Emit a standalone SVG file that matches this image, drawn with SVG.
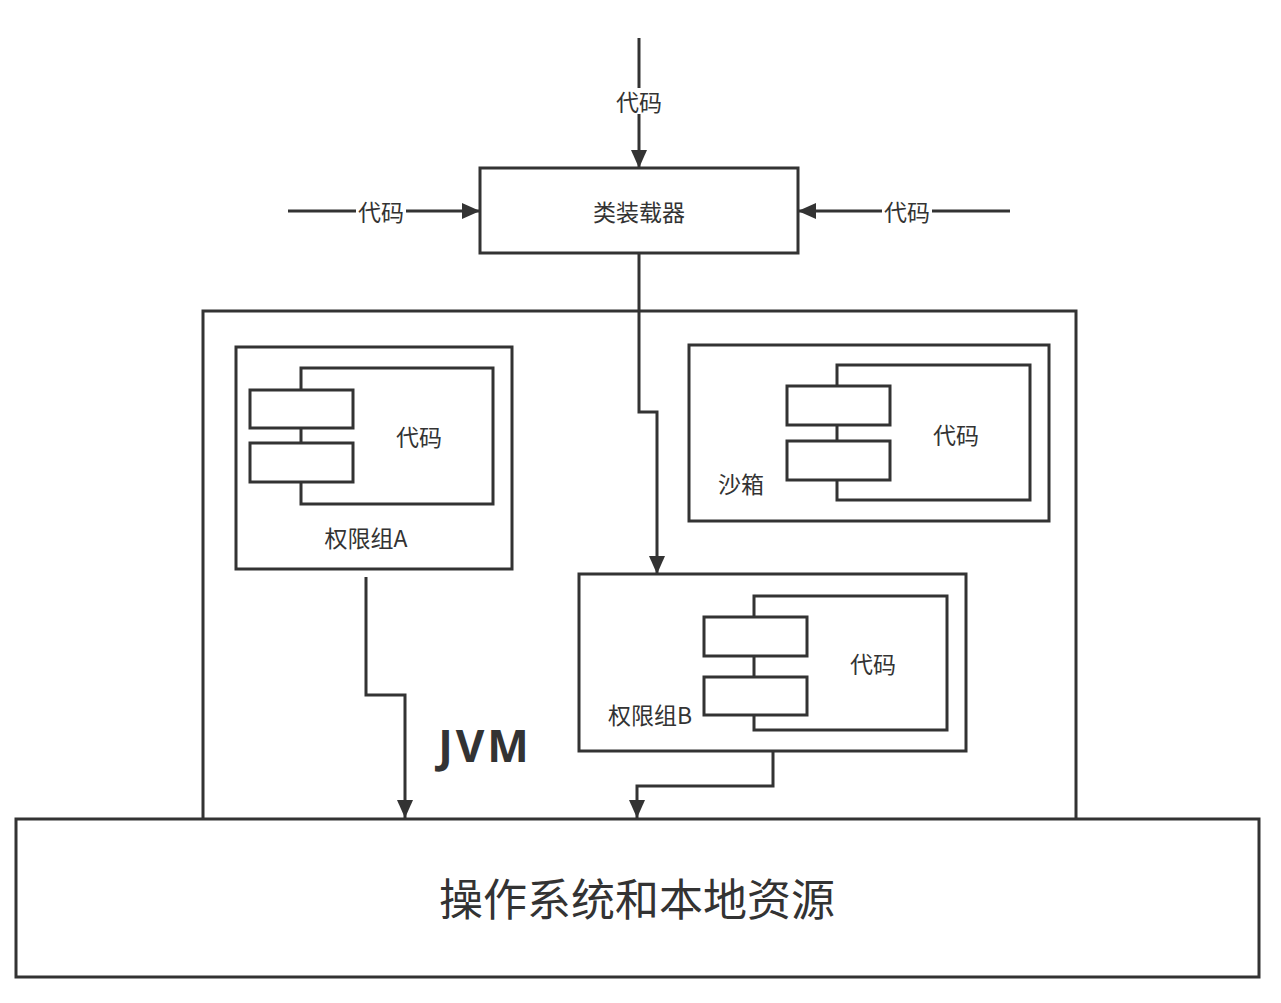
<svg xmlns="http://www.w3.org/2000/svg" width="1281" height="1003" viewBox="0 0 1281 1003">
<defs>
<marker id="arr" markerWidth="18" markerHeight="16" refX="18" refY="8" orient="auto" markerUnits="userSpaceOnUse">
<path d="M0,0 L18,8 L0,16 Z" fill="#333"/>
</marker>
<style>
.box{fill:#fff;stroke:#333;stroke-width:3}
.line{fill:none;stroke:#333;stroke-width:3}
.t{font-family:"Noto Sans CJK SC","Liberation Sans",sans-serif;fill:#333;font-size:23px;text-anchor:middle;dominant-baseline:central}
.bg{fill:#fff}
</style>
</defs>
<rect width="1281" height="1003" fill="#fff"/>
<g id="jvm">
<rect class="box" x="203" y="311" width="873" height="520"/>
<text x="485" y="745" style="font-family:'Open Sans','Liberation Sans',sans-serif;font-weight:bold;font-size:44px;letter-spacing:3px;fill:#333;text-anchor:middle;dominant-baseline:central">JVM</text>
</g>
<g id="classloader">
<rect class="box" x="480" y="168" width="318" height="85"/>
<text class="t" x="639" y="211">类装载器</text>
</g>
<g id="groupA">
<rect class="box" x="236" y="347" width="276" height="222"/>
<rect class="box" x="301" y="368" width="192" height="136"/>
<rect class="box" x="250" y="390" width="103" height="38"/>
<rect class="box" x="250" y="443" width="103" height="39"/>
<text class="t" x="419" y="436">代码</text>
<text class="t" x="366" y="537">权限组A</text>
</g>
<g id="sandbox">
<rect class="box" x="689" y="345" width="360" height="176"/>
<rect class="box" x="837" y="365" width="193" height="135"/>
<rect class="box" x="787" y="386" width="103" height="39"/>
<rect class="box" x="787" y="441" width="103" height="39"/>
<text class="t" x="956" y="434">代码</text>
<text class="t" x="741" y="483">沙箱</text>
</g>
<g id="groupB">
<rect class="box" x="579" y="574" width="387" height="177"/>
<rect class="box" x="754" y="596" width="193" height="134"/>
<rect class="box" x="704" y="617" width="103" height="39"/>
<rect class="box" x="704" y="677" width="103" height="38"/>
<text class="t" x="873" y="663">代码</text>
<text class="t" x="650" y="714">权限组B</text>
</g>
<g id="connectors">
<line class="line" x1="639" y1="38" x2="639" y2="168" marker-end="url(#arr)"/>
<line class="line" x1="288" y1="211" x2="480" y2="211" marker-end="url(#arr)"/>
<line class="line" x1="1010" y1="211" x2="798" y2="211" marker-end="url(#arr)"/>
<rect class="bg" x="613" y="88" width="52" height="26"/>
<text class="t" x="639" y="101">代码</text>
<rect class="bg" x="356" y="198" width="50" height="26"/>
<text class="t" x="381" y="211">代码</text>
<rect class="bg" x="882" y="198" width="50" height="26"/>
<text class="t" x="907" y="211">代码</text>
<polyline class="line" points="639,253 639,412 657,412 657,574" marker-end="url(#arr)"/>
<polyline class="line" points="366,577 366,695 405,695 405,818" marker-end="url(#arr)"/>
<polyline class="line" points="773,751 773,786 637,786 637,818" marker-end="url(#arr)"/>
</g>
<g id="os">
<rect class="box" x="16" y="819" width="1243" height="158"/>
<text class="t" x="637" y="897" style="font-size:44px">操作系统和本地资源</text>
</g>
</svg>
